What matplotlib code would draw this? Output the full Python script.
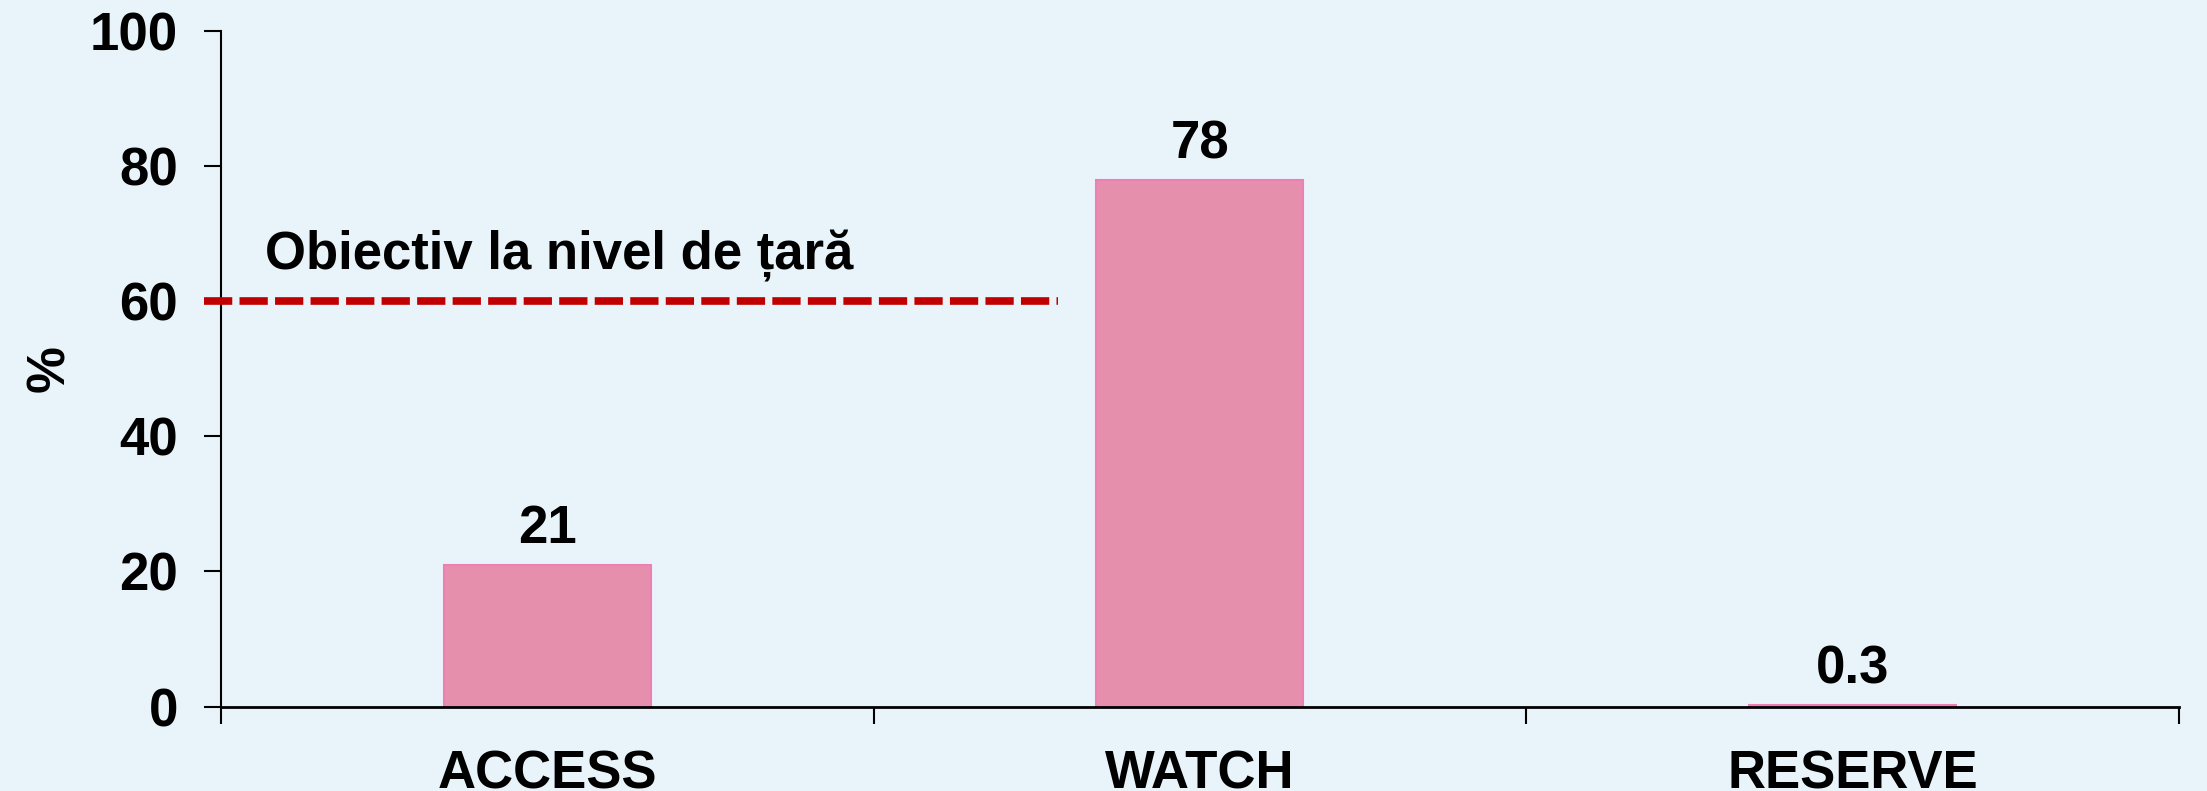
import numpy as np
import matplotlib
matplotlib.use('Agg')
import matplotlib.pyplot as plt

# Data
categories = ['ACCESS', 'WATCH', 'RESERVE']
values = [21, 78, 0.3]
value_labels = ['21', '78', '0.3']
target = 60
target_label = 'Obiectiv la nivel de țară'

plt.rcParams['font.family'] = ['Liberation Sans', 'DejaVu Sans']
plt.rcParams['font.weight'] = 'bold'
fs = 38

bg = '#E9F4FA'
fig = plt.figure(figsize=(22.07, 7.91), dpi=100, facecolor=bg)
ax = fig.add_axes([0.1001, 0.1067, 0.8872, 0.8541], facecolor=bg)

x = np.arange(len(categories))
ax.bar(x, values, width=0.317, color='#E68FAC', edgecolor='#EE7FB4', linewidth=1.5, zorder=2)

# value labels above bars
for xi, v, lab in zip(x, values, value_labels):
    ax.annotate(lab, (xi, v), xytext=(0, 15.5), textcoords='offset points',
                ha='center', va='baseline', fontsize=fs, fontweight='bold')

# country target line
ax.plot([-0.526, 0.783], [target, target], color='#C00000', lw=5.5,
        dashes=(3.7, 0.95), clip_on=False, zorder=3)
ax.text(-0.433, 66.7, target_label, ha='left', va='center', fontsize=fs, fontweight='bold')

ax.set_xlim(-0.5, 2.5)
ax.set_ylim(0, 100)
ax.set_yticks([0, 20, 40, 60, 80, 100])
ax.set_xticks(x)
ax.set_xticklabels(categories)
ax.set_xticks([-0.5, 0.5, 1.5, 2.5], minor=True)
ax.tick_params(axis='x', which='major', length=0, pad=31, labelsize=fs)
ax.tick_params(axis='x', which='minor', length=12, width=1.5, direction='out')
ax.tick_params(axis='y', length=12, width=1.5, direction='out', pad=19, labelsize=fs)
for lab in ax.get_xticklabels() + ax.get_yticklabels():
    lab.set_fontweight('bold')

ax.spines['top'].set_visible(False)
ax.spines['right'].set_visible(False)
ax.spines['left'].set_linewidth(1.5)
ax.spines['bottom'].set_linewidth(2)

ax.set_ylabel('%', fontsize=fs, fontweight='bold')
ax.yaxis.set_label_coords(-0.0745, 0.50)

fig.savefig('out.png', dpi=100, facecolor=bg)
